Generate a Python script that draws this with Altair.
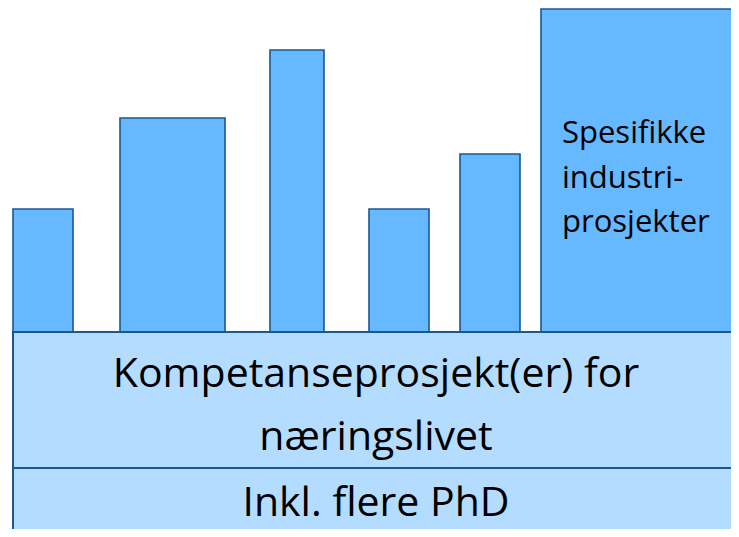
import altair as alt
import pandas as pd

# Schematic units (horizontal / vertical position units of the diagram)
bar_x0 = [13, 120, 270, 369, 460, 541]
bar_x1 = [73, 225, 324, 429, 520, 760]
bar_top = [328, 419, 487, 328, 383, 528]
band_y0 = [0, 69]
band_y1 = [69, 205]
band_x0 = 13
band_x1 = 760

band_lines = ["Kompetanseprosjekt(er) for", "næringslivet", "Inkl. flere PhD"]
band_line_y = [150, 87, 21]
side_lines = ["Spesifikke", "industri-", "prosjekter"]
side_line_y = [394, 349, 305]

bars = pd.DataFrame({"x0": bar_x0, "x1": bar_x1, "y0": [band_y1[-1]] * len(bar_x0), "y1": bar_top})
bands = pd.DataFrame({"y0": band_y0, "y1": band_y1, "x0": [band_x0] * 2, "x1": [band_x1] * 2})
btext = pd.DataFrame({"label": band_lines, "y": band_line_y, "x": [(band_x0 + 739) / 2] * 3})
stext = pd.DataFrame({"label": side_lines, "y": side_line_y, "x": [bar_x0[-1] + 21] * 3})

xs = alt.Scale(domain=[8, 731], nice=False, zero=False)
ys = alt.Scale(domain=[8, 529], nice=False, zero=False)
noax = None

STROKE = "#1b5890"
FONT = "Open Sans"

bar_layer = alt.Chart(bars).mark_rect(fill="#66b8ff", stroke=STROKE, strokeWidth=1.6, clip=True).encode(
    x=alt.X("x0:Q", scale=xs, axis=noax), x2="x1:Q",
    y=alt.Y("y0:Q", scale=ys, axis=noax), y2="y1:Q")

band_layer = alt.Chart(bands).mark_rect(fill="#b3dcff", stroke=STROKE, strokeWidth=2, clip=True).encode(
    x=alt.X("x0:Q", scale=xs, axis=noax), x2="x1:Q",
    y=alt.Y("y0:Q", scale=ys, axis=noax), y2="y1:Q")

band_text = alt.Chart(btext).mark_text(font=FONT, fontSize=41, color="black",
                                       baseline="alphabetic", align="center").encode(
    x=alt.X("x:Q", scale=xs, axis=noax), y=alt.Y("y:Q", scale=ys, axis=noax), text="label:N")

side_text = alt.Chart(stext).mark_text(font=FONT, fontSize=31, color="black",
                                       baseline="alphabetic", align="left").encode(
    x=alt.X("x:Q", scale=xs, axis=noax), y=alt.Y("y:Q", scale=ys, axis=noax), text="label:N")

chart = alt.layer(bar_layer, band_layer, band_text, side_text).properties(
    width=723, height=521, padding=0, autosize=alt.AutoSizeParams(type="none")
).configure_view(stroke=None)

chart.save("out.html", embed_options={"renderer": "svg", "actions": False})
